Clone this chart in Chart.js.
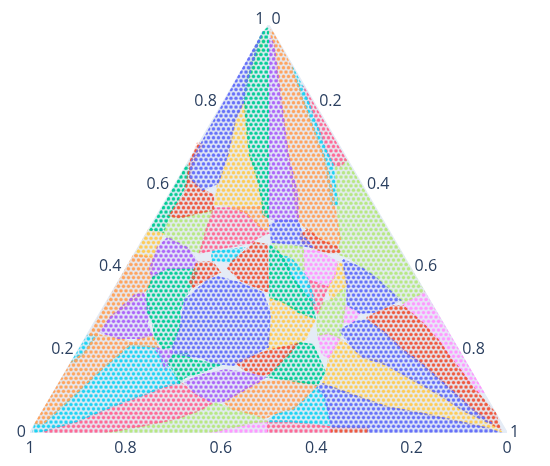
<!DOCTYPE html>
<html>
<head>
<meta charset="utf-8">
<style>body{margin:0;background:#fff}canvas{display:block}</style>
<script src="https://cdn.jsdelivr.net/npm/chart.js@4"></script>
</head>
<body>
<canvas id="myChart" width="550" height="466"></canvas>
<script>
// ternary axis labels
const bLabels = ['1', '0.8', '0.6', '0.4', '0.2', '0'];
const aLabels = ['0', '0.2', '0.4', '0.6', '0.8', '1'];
const cLabels = ['0', '0.2', '0.4', '0.6', '0.8', '1'];

// region outlines, [x along base, a]
const frame = [[0,0],[1,0],[0.5,1]];

const blue1 = [[.474,.951],[.482,.968],[.457,.870],[.447,.811],[.430,.767],[.415,.686],[.394,.613],[.361,.596],[.335,.627],[.338,.664]];
const blue2 = [[.373,.375],[.394,.382],[.440,.368],[.488,.343],[.503,.294],[.499,.211],[.455,.184],[.426,.167],[.384,.172],[.361,.184],[.300,.196],[.300,.216],[.314,.252],[.325,.326],[.342,.343]];
const blue3 = [[.503,.510],[.518,.520],[.562,.520],[.570,.485],[.593,.456],[.545,.463],[.507,.468]];
const blue4 = [[.656,.424],[.696,.404],[.723,.382],[.776,.326],[.723,.297],[.692,.294],[.665,.314],[.665,.363]];
const blue5 = [[.650,.252],[.681,.272],[.706,.277],[.744,.245],[.782,.203],[.818,.172],[.866,.123],[.929,.056],[.969,.022],[.908,.056],[.860,.093],[.803,.130],[.748,.167],[.698,.186],[.671,.216]];
const blue6 = [[.602,.113],[.614,.120],[.677,.093],[.748,.064],[.824,.047],[.895,.029],[.958,.012],[.981,.002],[.709,0],[.709,.012],[.633,.015],[.618,.088]];

const red1 = [[.352,.711],[.361,.706],[.340,.657],[.335,.627],[.361,.596],[.384,.583],[.384,.547],[.310,.527],[.293,.534],[.325,.588],[.329,.613],[.335,.662]];
const red2 = [[.423,.419],[.472,.466],[.497,.461],[.499,.346],[.472,.358],[.440,.375],[.415,.404]];
const red3 = [[.350,.417],[.382,.419],[.398,.395],[.367,.375],[.342,.358],[.335,.370]];
const red4 = [[.633,.012],[.709,.012],[.709,0],[.633,0]];
const red5 = [[.430,.174],[.461,.186],[.503,.203],[.560,.218],[.535,.184],[.503,.147],[.486,.142],[.451,.154]];
const red6 = [[.566,.485],[.583,.498],[.608,.473],[.644,.456],[.650,.444],[.629,.441],[.593,.453],[.572,.466]];
const red7 = [[.706,.282],[.730,.297],[.761,.311],[.782,.311],[.822,.270],[.855,.228],[.885,.179],[.937,.100],[.975,.049],[.985,.012],[.964,.025],[.929,.056],[.866,.123],[.818,.172],[.782,.203],[.744,.245]];

const green1 = [[.486,.980],[.499,.993],[.499,.527],[.488,.539],[.488,.559],[.478,.620],[.461,.681],[.455,.743],[.451,.804],[.447,.816],[.455,.865],[.478,.956]];
const green2 = [[.329,.657],[.335,.645],[.329,.613],[.293,.534],[.279,.493],[.252,.498]];
const green3 = [[.258,.382],[.287,.400],[.350,.400],[.340,.363],[.325,.333],[.314,.301],[.314,.260],[.298,.211],[.279,.208],[.262,.233],[.258,.270],[.247,.297],[.245,.343]];
const green4 = [[.289,.174],[.300,.191],[.329,.196],[.340,.179],[.398,.167],[.361,.150],[.325,.137],[.314,.123],[.304,.147]];
const green5 = [[.562,.221],[.593,.216],[.618,.150],[.602,.118],[.545,.130],[.499,.137],[.535,.184]];
const green6 = [[.503,.461],[.520,.444],[.541,.412],[.545,.387],[.591,.321],[.597,.282],[.562,.297],[.535,.319],[.503,.333]];

const purple1 = [[.503,.968],[.511,.951],[.524,.833],[.541,.681],[.560,.588],[.562,.520],[.518,.520],[.503,.527]];
const purple2 = [[.289,.478],[.331,.453],[.350,.419],[.340,.404],[.283,.400],[.256,.380],[.252,.404],[.268,.456]];
const purple3 = [[.237,.343],[.252,.301],[.245,.270],[.256,.240],[.231,.233],[.184,.233],[.147,.248],[.168,.282],[.220,.338]];
const purple4 = [[.325,.125],[.361,.142],[.409,.154],[.455,.147],[.493,.137],[.476,.123],[.455,.110],[.405,.076],[.382,.076],[.346,.098]];
const purple5 = [[.262,.208],[.298,.203],[.298,.184],[.283,.159],[.273,.191]];

const orange1 = [[.503,.988],[.509,.980],[.549,.895],[.572,.816],[.618,.669],[.633,.596],[.650,.473],[.641,.456],[.608,.473],[.583,.498],[.562,.520],[.541,.681],[.524,.833],[.511,.951]];
const orange2 = [[.423,.551],[.488,.554],[.499,.522],[.499,.498],[.486,.502],[.451,.542]];
const orange3 = [[.218,.436],[.258,.429],[.252,.363],[.237,.343],[.168,.282],[.140,.240],[.124,.240]];
const orange4 = [[.140,.240],[.184,.233],[.214,.221],[.147,.154],[.099,.100],[.052,.049],[.027,.022],[.011,.022],[.088,.174],[.113,.196]];
const orange5 = [[.231,.233],[.256,.240],[.268,.211],[.210,.216]];
const orange6 = [[.407,.076],[.455,.110],[.478,.125],[.545,.130],[.602,.118],[.572,.081],[.551,.059],[.520,.051],[.493,.037],[.461,.049],[.423,.059]];

const cyan1 = [[.549,.897],[.572,.846],[.620,.694],[.635,.657],[.644,.559],[.633,.559],[.618,.669],[.572,.816]];
const cyan2 = [[.382,.444],[.447,.453],[.423,.419],[.382,.424]];
const cyan3 = [[.122,.240],[.140,.238],[.113,.196],[.094,.174],[.088,.174]];
const cyan4 = [[.210,.216],[.266,.211],[.279,.179],[.298,.147],[.314,.123],[.279,.113],[.252,.100],[.174,.066],[.099,.029],[.027,.005],[.006,0],[.011,.022],[.027,.022],[.052,.049],[.099,.100],[.147,.154]];
const cyan5 = [[.499,.029],[.514,.044],[.556,.064],[.602,.110],[.618,.093],[.629,.020],[.545,.029]];
const cyan6 = [[.520,.436],[.545,.429],[.566,.404],[.583,.375],[.597,.319],[.583,.331],[.560,.363],[.541,.400]];

const pink1 = [[.572,.850],[.662,.669],[.650,.654],[.635,.657],[.620,.694]];
const pink2 = [[.386,.551],[.430,.551],[.451,.542],[.486,.502],[.499,.490],[.476,.478],[.465,.466],[.384,.449],[.356,.441],[.373,.510]];
const pink3 = [[.027,.005],[.099,.029],[.174,.066],[.252,.100],[.279,.113],[.314,.125],[.346,.096],[.382,.074],[.356,.056],[.304,.034],[.224,.015],[.153,0],[.031,0]];
const pink4 = [[.499,.029],[.545,.029],[.629,.015],[.633,0],[.499,0]];
const pink5 = [[.583,.375],[.623,.358],[.612,.319],[.602,.294],[.591,.319]];

const lime1 = [[.486,.973],[.493,.963],[.461,.865],[.451,.860],[.472,.946]];
const lime2 = [[.641,.657],[.662,.669],[.826,.346],[.782,.319],[.723,.382],[.671,.429],[.646,.439],[.650,.480],[.644,.559]];
const lime3 = [[.279,.493],[.293,.529],[.310,.527],[.384,.547],[.373,.510],[.356,.441],[.335,.449],[.289,.478]];
const lime4 = [[.153,0],[.224,.015],[.304,.034],[.356,.056],[.388,.074],[.423,.059],[.461,.049],[.497,.029],[.472,.027],[.436,.017],[.371,0]];
const lime5 = [[.507,.466],[.572,.456],[.574,.400],[.566,.395],[.541,.404],[.520,.444]];
const lime6 = [[.633,.326],[.660,.355],[.660,.314],[.656,.277],[.650,.233],[.625,.245],[.604,.240],[.602,.277],[.612,.319]];

const magenta1 = [[.371,0],[.436,.017],[.472,.027],[.497,.029],[.499,0]];
const magenta2 = [[.572,.449],[.608,.444],[.644,.419],[.639,.387],[.623,.358],[.583,.375],[.574,.400]];
const magenta3 = [[.660,.314],[.692,.294],[.677,.270],[.654,.272]];
const magenta4 = [[.604,.240],[.625,.245],[.650,.233],[.625,.184],[.612,.196]];
const magenta5 = [[.782,.316],[.826,.346],[.950,.100],[.937,.098],[.885,.179],[.855,.228],[.822,.270]];

const yellow1 = [[.447,.809],[.451,.804],[.455,.743],[.461,.681],[.478,.620],[.488,.559],[.478,.551],[.388,.559],[.394,.613],[.413,.669],[.415,.686],[.430,.767]];
const yellow2 = [[.249,.498],[.279,.490],[.258,.429],[.220,.436]];
const yellow3 = [[.503,.331],[.535,.319],[.597,.277],[.577,.228],[.556,.216],[.499,.203],[.507,.277]];
const yellow4 = [[.646,.419],[.654,.412],[.665,.363],[.633,.326],[.623,.358],[.639,.387]];
const yellow5 = [[.650,.230],[.671,.211],[.698,.184],[.734,.179],[.748,.162],[.803,.130],[.860,.093],[.908,.056],[.969,.022],[.985,.005],[.958,.012],[.895,.029],[.824,.047],[.748,.064],[.677,.093],[.614,.120],[.621,.150],[.627,.184]];

const blues = [blue1, blue2, blue3, blue4, blue5, blue6];
const reds = [red1, red2, red3, red4, red5, red6, red7];
const greens = [green1, green2, green3, green4, green5, green6];
const purples = [purple1, purple2, purple3, purple4, purple5];
const oranges = [orange1, orange2, orange3, orange4, orange5, orange6];
const cyans = [cyan1, cyan2, cyan3, cyan4, cyan5, cyan6];
const pinks = [pink1, pink2, pink3, pink4, pink5];
const limes = [lime1, lime2, lime3, lime4, lime5, lime6];
const magentas = [magenta1, magenta2, magenta3, magenta4, magenta5];
const yellows = [yellow1, yellow2, yellow3, yellow4, yellow5];

const paper = '#E5ECF6';

// the dots are a fill texture, one canvas-sized tile per colour
function dots(color) {
    const tile = document.createElement('canvas');
    tile.width = 550;
    tile.height = 466;
    const c = tile.getContext('2d');
    c.fillStyle = color;
    let row = 0;
    for (let y = 430.7; y > -5; y -= 4.374) {
        for (let x = 1 + (row % 2) * 2.5; x < 555; x += 5) {
            c.beginPath();
            c.arc(x, y, 2.25, 0, Math.PI * 2);
            c.globalAlpha = 0.3;
            c.fill();
            c.beginPath();
            c.arc(x, y, 1.55, 0, Math.PI * 2);
            c.globalAlpha = 0.95;
            c.fill();
        }
        row++;
    }
    return c.createPattern(tile, 'no-repeat');
}

function shape(points, fillStyle, order) {
    const closed = points.concat([points[0]]);
    return {
        data: closed.map(p => ({x: p[0], y: p[1]})),
        showLine: true,
        fill: 'shape',
        backgroundColor: fillStyle,
        // outline in the same texture closes the seams between neighbours
        borderColor: fillStyle,
        borderWidth: 2,
        pointRadius: 0,
        tension: 0,
        order: order
    };
}

// frame goes behind every region
const datasets = [shape(frame, paper, 1)];
[
    [blues, '#636EFA'], [reds, '#EF553B'], [greens, '#00CC96'], [purples, '#AB63FA'],
    [oranges, '#FFA15A'], [cyans, '#19D3F3'], [pinks, '#FF6692'], [limes, '#B6E880'],
    [magentas, '#FF97FF'], [yellows, '#FECB52']
].forEach(group => {
    const pattern = dots(group[1]);
    group[0].forEach(points => datasets.push(shape(points, pattern, 0)));
});

// left and right side labels follow the triangle edges
const sideLabels = {
    id: 'sideLabels',
    afterDraw(chart) {
        const {ctx, scales} = chart;
        ctx.save();
        ctx.font = '16px "Open Sans"';
        ctx.fillStyle = '#2a3f5f';
        ctx.textBaseline = 'middle';
        ctx.textAlign = 'right';
        aLabels.forEach((text, i) => {
            const a = i / 5;
            ctx.fillText(text, scales.x.getPixelForValue(a / 2) - 4, scales.y.getPixelForValue(a) - 1 - 5 * a);
        });
        ctx.textAlign = 'left';
        cLabels.forEach((text, i) => {
            const c = i / 5;
            ctx.fillText(text, scales.x.getPixelForValue(0.5 + c / 2) + 3, scales.y.getPixelForValue(1 - c) - 1 - 5 * (1 - c));
        });
        ctx.restore();
    }
};

new Chart(document.getElementById('myChart'), {
    type: 'scatter',
    data: {datasets: datasets},
    plugins: [sideLabels],
    options: {
        responsive: false,
        animation: false,
        layout: {padding: {left: 30, right: 43, top: 25, bottom: 0}},
        plugins: {legend: {display: false}, tooltip: {enabled: false}},
        scales: {
            x: {
                min: 0,
                max: 1,
                grid: {display: false, drawTicks: false},
                border: {display: false},
                afterFit(scale) { scale.height = 33; },
                ticks: {
                    stepSize: 0.2,
                    maxRotation: 0,
                    padding: 6,
                    color: '#2a3f5f',
                    font: {family: 'Open Sans', size: 16},
                    callback: (value, i) => bLabels[i]
                }
            },
            y: {min: 0, max: 1, display: false}
        }
    }
});
</script>
</body>
</html>
